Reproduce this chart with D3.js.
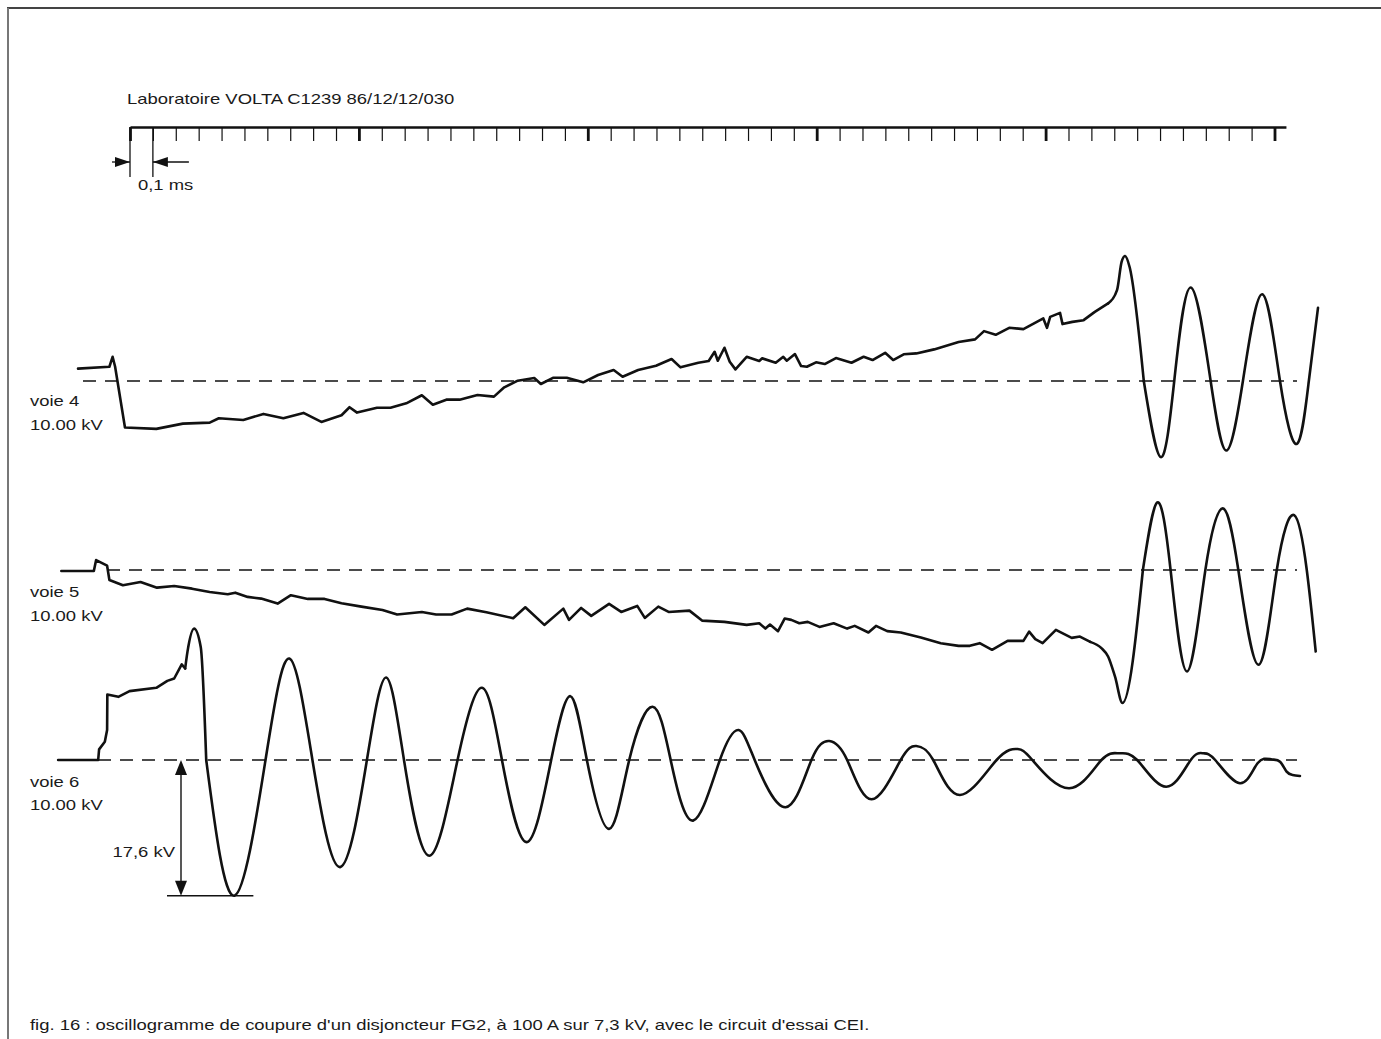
<!DOCTYPE html>
<html>
<head>
<meta charset="utf-8">
<script src="https://cdn.jsdelivr.net/npm/d3@7"></script>
<style>
  html, body { margin: 0; padding: 0; background: #fff; }
  svg { display: block; }
  text { font-family: "Liberation Sans", Arial, Helvetica, sans-serif; font-size: 15px; fill: #1a1a1a; }
</style>
</head>
<body>
<svg id="chart" width="1381" height="1039"></svg>
<script>
// Time ruler: one tick every 0.1 ms, heavier tick every 1 ms
const rulerTicks = d3.range(0, 5.001, 0.1);

// Channel labels
const channels = ["voie 4", "voie 5", "voie 6"];
const channelScale = "10.00 kV";

// Recorded traces, [time in ms, voltage in kV]
// Each channel: arcing part (broken line), transition, then the ringing (smooth)
const voie4Trace = [
  [-0.227,1.60],[-0.090,1.85],[-0.076,3.14],[-0.065,1.85],[-0.022,-6.04],[0.115,-6.21],[0.231,-5.53],
  [0.348,-5.40],[0.388,-4.83],[0.495,-5.05],[0.583,-4.27],[0.670,-4.83],[0.758,-4.14],[0.836,-5.31],
  [0.924,-4.44],[0.959,-3.40],[0.992,-4.10],[1.079,-3.46],[1.138,-3.46],[1.207,-2.89],[1.275,-1.85],
  [1.323,-3.07],[1.382,-2.42],[1.440,-2.42],[1.518,-1.81],[1.590,-2.03],[1.635,-0.82],[1.694,0.04],
  [1.766,0.39],[1.795,-0.39],[1.850,0.43],[1.908,0.43],[1.980,-0.17],[2.045,0.78],[2.113,1.42],
  [2.152,0.56],[2.220,1.42],[2.298,1.98],[2.366,2.85],[2.405,1.77],[2.483,2.37],[2.528,2.59],
  [2.554,3.79],[2.568,2.63],[2.597,4.31],[2.620,2.50],[2.645,1.51],[2.694,3.14],[2.749,2.59],
  [2.762,2.94],[2.821,2.37],[2.854,3.14],[2.869,2.63],[2.905,3.49],[2.932,1.94],[2.957,1.85],
  [2.997,2.42],[3.035,2.20],[3.084,2.98],[3.152,2.37],[3.205,3.14],[3.244,2.72],[3.299,3.66],
  [3.334,2.72],[3.380,3.46],[3.435,3.58],[3.513,4.10],[3.620,5.05],[3.692,5.40],[3.731,6.47],
  [3.782,5.99],[3.841,6.90],[3.903,6.73],[3.990,8.11],[4.006,6.90],[4.020,8.32],[4.063,8.84],
  [4.074,7.38],[4.117,7.67],[4.166,7.89],[4.215,8.97],[4.273,10.06]
];
const voie4Lead = [
  [4.273,10.06],[4.312,11.78],[4.332,15.44],[4.347,16.22],[4.367,14.79],[4.429,0]
];
const voie4Ring = [
  [4.429,0],[4.503,-9.87],[4.562,0],[4.634,12.13],[4.721,0],[4.790,-9.02],[4.862,0],[4.946,11.26],
  [5.024,0],[5.098,-8.15],[5.150,0],[5.190,9.49]
];

const voie5Trace = [
  [-0.300,-0.13],[-0.158,-0.13],[-0.148,1.29],[-0.100,0.56],[-0.090,-1.29],[-0.031,-1.98],[0.046,-1.55],
  [0.118,-2.29],[0.193,-2.07],[0.271,-2.42],[0.348,-2.85],[0.427,-3.14],[0.460,-2.94],[0.514,-3.49],
  [0.573,-3.71],[0.645,-4.36],[0.703,-3.27],[0.777,-3.75],[0.850,-3.75],[0.924,-4.31],[1.011,-4.75],
  [1.103,-5.18],[1.167,-5.78],[1.275,-5.44],[1.337,-5.78],[1.405,-5.78],[1.473,-5.01],[1.557,-5.47],
  [1.674,-6.25],[1.727,-4.83],[1.810,-7.12],[1.893,-5.01],[1.918,-6.47],[1.971,-4.92],[2.015,-5.95],
  [2.093,-4.40],[2.146,-5.44],[2.216,-4.66],[2.249,-6.21],[2.308,-4.75],[2.353,-5.44],[2.444,-5.27],
  [2.499,-6.56],[2.597,-6.73],[2.694,-7.12],[2.749,-6.90],[2.776,-7.60],[2.796,-7.08],[2.831,-7.93],
  [2.860,-6.30],[2.889,-6.47],[2.924,-6.90],[2.961,-6.73],[3.012,-7.38],[3.074,-6.90],[3.133,-7.60],
  [3.166,-7.25],[3.226,-8.11],[3.259,-7.25],[3.308,-7.93],[3.367,-8.11],[3.455,-8.76],[3.542,-9.49],
  [3.620,-9.84],[3.669,-9.84],[3.712,-9.49],[3.766,-10.35],[3.834,-9.19],[3.903,-9.19],[3.928,-7.99],
  [3.955,-8.97],[3.987,-9.49],[4.045,-7.76],[4.114,-8.80],[4.150,-8.63],[4.195,-9.32]
];
const voie5Lead = [
  [4.195,-9.32],[4.244,-10.13],[4.273,-11.22],[4.303,-13.81],[4.336,-17.25],[4.425,0]
];
const voie5Ring = [
  [4.425,0],[4.488,8.76],[4.546,0],[4.618,-13.16],[4.698,0],[4.774,7.99],[4.842,0],[4.930,-12.29],
  [5.010,0],[5.086,7.12],[5.141,0],[5.180,-10.57]
];

const voie6Trace = [
  [-0.314,0],[-0.139,0],[-0.135,1.38],[-0.110,2.37],[-0.100,3.88],[-0.099,8.50],[-0.051,8.19],
  [-0.002,8.93],[0.115,9.36],[0.163,10.26],[0.193,10.57],[0.226,12.39],[0.241,11.87]
];
const voie6Lead = [
  [0.241,11.87],[0.251,14.02],[0.280,17.04],[0.309,14.66],[0.333,0]
];
const voie6Ring = [
  [0.333,0],[0.456,-17.6],[0.592,0],[0.696,13.16],[0.797,0],[0.918,-13.89],[1.035,0],[1.119,10.70],
  [1.197,0],[1.308,-12.42],[1.431,0],[1.538,9.36],[1.625,0],[1.733,-10.65],[1.840,0],[1.924,8.28],
  [1.996,0],[2.093,-8.93],[2.181,0],[2.283,6.90],[2.362,0],[2.460,-7.86],[2.577,0],[2.659,3.88],
  [2.729,0],[2.864,-6.12],[2.977,0],[3.055,2.46],[3.133,0],[3.240,-5.09],[3.367,0],[3.435,1.81],
  [3.509,0],[3.626,-4.53],[3.786,0],[3.878,1.42],[3.942,0],[4.103,-3.66],[4.244,0],[4.322,0.87],
  [4.400,0],[4.527,-3.46],[4.634,0],[4.689,0.87],[4.741,0],[4.849,-3.02],[4.926,-0.43],[4.985,0.09],
  [5.024,-0.22],[5.053,-1.51],[5.079,-1.94],[5.111,-2.07]
];

// First trough of voie 6, quoted on the drawing
const firstPeakKV = -17.6;
const firstPeakLabel = "17,6 kV";

const titleText = "Laboratoire VOLTA C1239 86/12/12/030";
const unitText = "0,1 ms";
const captionText = "fig. 16 : oscillogramme de coupure d'un disjoncteur FG2, à 100 A sur 7,3 kV, avec le circuit d'essai CEI.";

// ---------------------------------------------------------------------------
const svg = d3.select("#chart");
const INK = "#111";
const STRETCH = 1.23;   // the lettering is set slightly expanded

const x = d3.scaleLinear().domain([0, 5]).range([130, 1274.5]);
const pxPerKV = 135.7 / 17.6;
function channelY(zeroPx) {
  return d3.scaleLinear().domain([0, -17.6]).range([zeroPx, zeroPx + 17.6 * pxPerKV]);
}
const y4 = channelY(381), y5 = channelY(570), y6 = channelY(760);

function label(px, py, str, anchor) {
  return svg.append("text")
    .attr("transform", `translate(${px},${py}) scale(${STRETCH},1)`)
    .attr("text-anchor", anchor || "start")
    .text(str);
}

// frame (top and left edges)
svg.append("line").attr("x1", 7).attr("x2", 1381).attr("y1", 8).attr("y2", 8)
  .attr("stroke", "#444").attr("stroke-width", 2);
svg.append("line").attr("x1", 8).attr("x2", 8).attr("y1", 8).attr("y2", 1039)
  .attr("stroke", "#777").attr("stroke-width", 2);

// title
label(127, 104, titleText);

// time ruler
const xr = d3.scaleLinear().domain([0, 5.05]).range([x(0), x(5.05)]);
const ruler = svg.append("g").attr("transform", "translate(0,127)")
  .call(d3.axisBottom(xr).tickValues(rulerTicks).tickSize(14).tickSizeOuter(0).tickFormat(""));
ruler.select(".domain").attr("stroke", INK).attr("stroke-width", 2.5);
ruler.selectAll(".tick line")
  .attr("stroke", INK)
  .attr("stroke-width", d => Math.abs(d - Math.round(d)) < 1e-6 ? 2.8 : 1.2);

// 0,1 ms dimension marker
const m0 = xr(0), m1 = xr(0.1), my = 162;
[m0, m1].forEach(px => {
  svg.append("line").attr("x1", px).attr("x2", px).attr("y1", 128).attr("y2", 177)
    .attr("stroke", INK).attr("stroke-width", 1.3);
});
svg.append("line").attr("x1", m0 - 18).attr("x2", m0).attr("y1", my).attr("y2", my)
  .attr("stroke", INK).attr("stroke-width", 1.3);
svg.append("line").attr("x1", m1).attr("x2", m1 + 36).attr("y1", my).attr("y2", my)
  .attr("stroke", INK).attr("stroke-width", 1.3);
svg.append("path").attr("d", `M${m0},${my} L${m0 - 15},${my - 5} L${m0 - 15},${my + 5} Z`).attr("fill", INK);
svg.append("path").attr("d", `M${m1},${my} L${m1 + 15},${my - 5} L${m1 + 15},${my + 5} Z`).attr("fill", INK);
label(138, 190, unitText);

// zero reference lines
const zeroLines = [
  { y: y4, from: 83, to: 1297 },
  { y: y5, from: 107, to: 1297 },
  { y: y6, from: 98, to: 1297 }
];
zeroLines.forEach(z => {
  svg.append("line").attr("x1", z.from).attr("x2", z.to)
    .attr("y1", z.y(0)).attr("y2", z.y(0))
    .attr("stroke", INK).attr("stroke-width", 1.4).attr("stroke-dasharray", "13 9");
});

// channel labels
const labelRows = [[406, 430], [597, 621], [787, 810]];
channels.forEach((c, i) => {
  label(30, labelRows[i][0], c);
  label(30, labelRows[i][1], channelScale);
});

// traces
function drawTrace(data, yScale, curve) {
  const line = d3.line().x(d => x(d[0])).y(d => yScale(d[1])).curve(curve);
  svg.append("path").datum(data).attr("d", line)
    .attr("fill", "none").attr("stroke", INK).attr("stroke-width", 2.6)
    .attr("stroke-linejoin", "round").attr("stroke-linecap", "round");
}
[[voie4Trace, voie4Lead, voie4Ring, y4],
 [voie5Trace, voie5Lead, voie5Ring, y5],
 [voie6Trace, voie6Lead, voie6Ring, y6]].forEach(([trace, lead, ring, ys]) => {
  drawTrace(trace, ys, d3.curveLinear);
  drawTrace(lead, ys, d3.curveMonotoneX);
  drawTrace(ring, ys, d3.curveNatural);
});

// 17,6 kV dimension on voie 6
const troughT = voie6Ring.find(d => d[1] === firstPeakKV)[0];
const dimX = 181, dimTop = y6(0), dimBot = y6(firstPeakKV);
svg.append("line").attr("x1", dimX).attr("x2", dimX).attr("y1", dimTop + 10).attr("y2", dimBot - 10)
  .attr("stroke", INK).attr("stroke-width", 1.4);
svg.append("path").attr("d", `M${dimX},${dimTop} L${dimX - 6},${dimTop + 15} L${dimX + 6},${dimTop + 15} Z`).attr("fill", INK);
svg.append("path").attr("d", `M${dimX},${dimBot} L${dimX - 6},${dimBot - 15} L${dimX + 6},${dimBot - 15} Z`).attr("fill", INK);
svg.append("line").attr("x1", 167).attr("x2", x(troughT) + 19).attr("y1", dimBot).attr("y2", dimBot)
  .attr("stroke", INK).attr("stroke-width", 1.4);
label(175, 857, firstPeakLabel, "end");

// caption
label(30, 1030, captionText);
</script>
</body>
</html>
